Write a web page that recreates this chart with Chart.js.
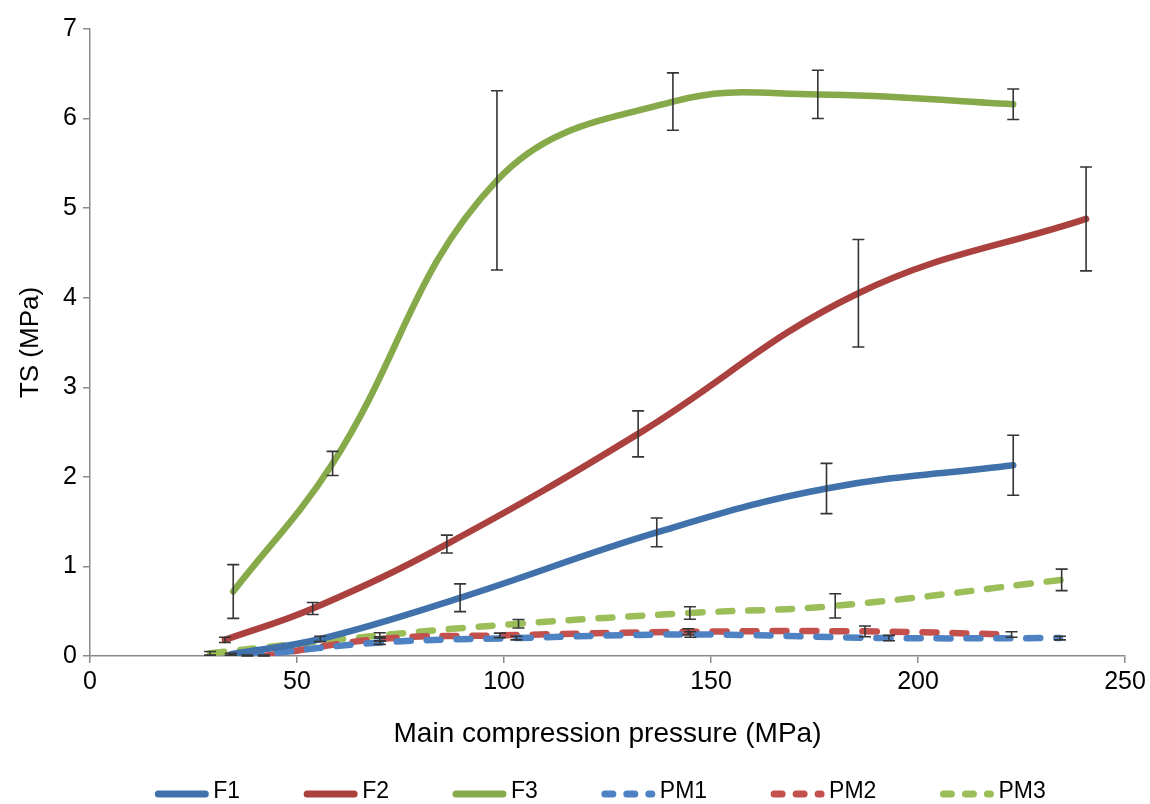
<!DOCTYPE html>
<html>
<head>
<meta charset="utf-8">
<script src="https://cdn.jsdelivr.net/npm/chart.js@4.4.0/dist/chart.umd.min.js"></script>
<style>
html, body { margin: 0; padding: 0; background: #fff; }
#wrap { width: 1150px; height: 804px; }
</style>
</head>
<body>
<div id="wrap"><canvas id="tsChart"></canvas></div>
<script>
// values
const f1Pressure = [34, 55.6, 89.4, 136.9, 177.9, 223];
const f1TS = [0.02, 0.19, 0.65, 1.38, 1.87, 2.13];
const f1Err = [0.01, 0.03, 0.155, 0.16, 0.28, 0.335];

const f2Pressure = [32.6, 53.8, 86.2, 132.4, 185.6, 240.6];
const f2TS = [0.18, 0.53, 1.25, 2.48, 4.05, 4.88];
const f2Err = [0.03, 0.067, 0.1, 0.257, 0.6, 0.58];

const f3Pressure = [34.6, 58.6, 98.3, 140.8, 175.8, 223];
const f3TS = [0.72, 2.15, 5.31, 6.19, 6.27, 6.16];
const f3Err = [0.30, 0.135, 1.0, 0.32, 0.27, 0.17];

const pm1Pressure = [38, 70, 103, 145, 193, 234.3];
const pm1TS = [0.0, 0.15, 0.2, 0.24, 0.2, 0.2];
const pm1Err = [0.01, 0.02, 0.02, 0.03, 0.03, 0.02];

const pm2Pressure = [42, 70, 99, 144.5, 187.2, 222.6];
const pm2TS = [0.0, 0.19, 0.23, 0.27, 0.275, 0.24];
const pm2Err = [0.01, 0.025, 0.025, 0.035, 0.06, 0.03];

const pm3Pressure = [29, 70, 103.5, 144.9, 180, 234.7];
const pm3TS = [0.03, 0.23, 0.36, 0.48, 0.56, 0.85];
const pm3Err = [0.02, 0.03, 0.047, 0.07, 0.135, 0.12];

const xTicks = [0, 50, 100, 150, 200, 250];
const yTicks = [0, 1, 2, 3, 4, 5, 6, 7];

const FONT = '"Liberation Sans", Arial, sans-serif';

function toPoints(xs, ys) {
    return xs.map((v, i) => ({ x: v, y: ys[i] }));
}

function makeSet(label, xs, ys, errs, color, dashed) {
    return {
        label: label,
        data: toPoints(xs, ys),
        errors: errs,
        borderColor: color,
        backgroundColor: color,
        borderWidth: dashed ? 6.5 : 6.5,
        borderDash: dashed ? [14, 16] : [],
        borderCapStyle: 'round',
        borderJoinStyle: 'round',
        pointRadius: 0,
        showLine: true,
        tension: 0.4,
        fill: false,
        dashed: dashed
    };
}

const errorBars = {
    id: 'errorBars',
    afterDatasetsDraw(chart) {
        const ctx = chart.ctx;
        const x = chart.scales.x;
        const y = chart.scales.y;
        ctx.save();
        ctx.strokeStyle = '#353535';
        ctx.lineWidth = 1.6;
        chart.data.datasets.forEach(ds => {
            ds.data.forEach((p, i) => {
                const e = ds.errors[i];
                const px = x.getPixelForValue(p.x);
                const top = y.getPixelForValue(p.y + e);
                const bot = y.getPixelForValue(Math.max(0, p.y - e));
                ctx.beginPath();
                ctx.moveTo(px, top); ctx.lineTo(px, bot);
                ctx.moveTo(px - 6, top); ctx.lineTo(px + 6, top);
                ctx.moveTo(px - 6, bot); ctx.lineTo(px + 6, bot);
                ctx.stroke();
            });
        });
        ctx.restore();
    }
};

// legend drawn along the bottom, line samples and names
const bottomLegend = {
    id: 'bottomLegend',
    afterDraw(chart) {
        const ctx = chart.ctx;
        const lineW = 55, gap = 4, spacing = 63;
        const yMid = 792;
        ctx.save();
        ctx.font = '23px ' + FONT;
        ctx.textBaseline = 'middle';
        const sets = chart.data.datasets;
        const widths = sets.map(ds => lineW + gap + ctx.measureText(ds.label).width);
        const total = widths.reduce((a, b) => a + b, 0) + spacing * (sets.length - 1);
        let cx = 600 - total / 2;
        sets.forEach((ds, i) => {
            ctx.strokeStyle = ds.borderColor;
            ctx.lineWidth = 7;
            ctx.lineCap = 'round';
            ctx.setLineDash(ds.dashed ? [8, 14] : []);
            ctx.beginPath();
            ctx.moveTo(cx + 4, yMid + 2);
            ctx.lineTo(cx + lineW - 4, yMid + 2);
            ctx.stroke();
            ctx.setLineDash([]);
            ctx.fillStyle = '#000';
            ctx.fillText(ds.label, cx + lineW + gap, yMid);
            cx += widths[i] + spacing;
        });
        ctx.restore();
    }
};

const ctx = document.getElementById('tsChart').getContext('2d');
const chart = new Chart(ctx, {
    type: 'scatter',
    data: {
        datasets: [
            makeSet('F1', f1Pressure, f1TS, f1Err, '#4071AA', false),
            makeSet('F2', f2Pressure, f2TS, f2Err, '#AA413E', false),
            makeSet('F3', f3Pressure, f3TS, f3Err, '#86A94A', false),
            makeSet('PM1', pm1Pressure, pm1TS, pm1Err, '#4F82C2', true),
            makeSet('PM2', pm2Pressure, pm2TS, pm2Err, '#C4504D', true),
            makeSet('PM3', pm3Pressure, pm3TS, pm3Err, '#9BBE59', true)
        ]
    },
    options: {
        responsive: true,
        maintainAspectRatio: false,
        animation: false,
        layout: { padding: { top: 29, right: 25, bottom: 50, left: 0 } },
        plugins: {
            legend: { display: false },
            tooltip: { enabled: false }
        },
        scales: {
            x: {
                type: 'linear',
                min: 0,
                max: 250,
                afterBuildTicks: s => { s.ticks = xTicks.map(v => ({ value: v })); },
                afterFit: s => { s.height = 98; },
                ticks: {
                    color: '#000',
                    padding: 4,
                    font: { family: FONT, size: 25 }
                },
                grid: { drawOnChartArea: false, drawTicks: true, tickLength: 7, color: '#8a8a8a', lineWidth: 1.5 },
                border: { color: '#8a8a8a', width: 1.5 },
                title: {
                    display: true,
                    text: 'Main compression pressure (MPa)',
                    color: '#000',
                    padding: { top: 0, bottom: 3 },
                    font: { family: FONT, size: 28 }
                }
            },
            y: {
                type: 'linear',
                min: 0,
                max: 7,
                afterBuildTicks: s => { s.ticks = yTicks.map(v => ({ value: v })); },
                afterFit: s => { s.width = 90; },
                ticks: {
                    color: '#000',
                    padding: 6,
                    font: { family: FONT, size: 25 }
                },
                grid: { drawOnChartArea: false, drawTicks: true, tickLength: 7, color: '#8a8a8a', lineWidth: 1.5 },
                border: { color: '#8a8a8a', width: 1.5 },
                title: {
                    display: true,
                    text: 'TS (MPa)',
                    color: '#000',
                    padding: { top: 15, bottom: 0 },
                    font: { family: FONT, size: 26 }
                }
            }
        }
    },
    plugins: [errorBars, bottomLegend]
});
</script>
</body>
</html>
